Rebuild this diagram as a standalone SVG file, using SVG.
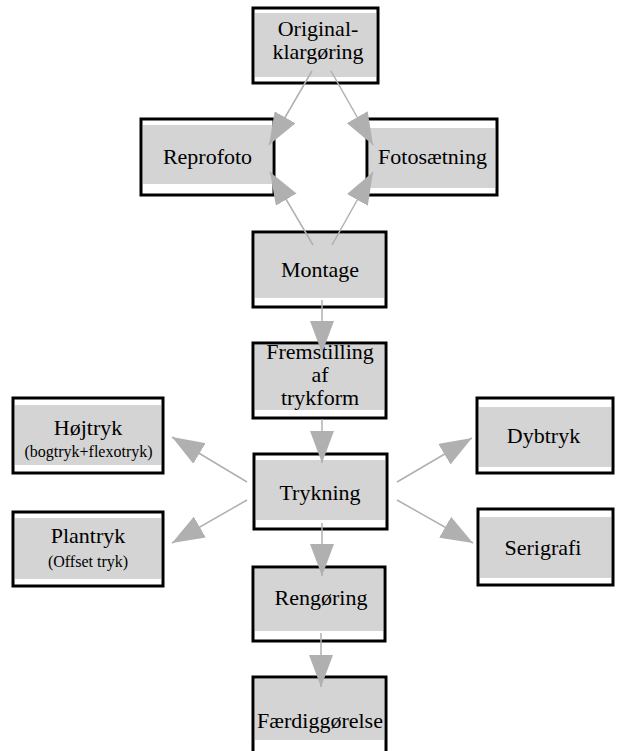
<svg xmlns="http://www.w3.org/2000/svg" width="618" height="751" viewBox="0 0 618 751">
<style>
.b{fill:#fff;stroke:#000;stroke-width:3}
.g{fill:#d4d4d4}
text{font-family:'Liberation Serif','Times New Roman',Times,serif;fill:#000;text-anchor:middle}
.t{font-size:22px}
.s{font-size:16px}
.c line{stroke:#b0b0b0;stroke-width:1.5;marker-end:url(#ah)}
</style>
<defs>
<marker id="ah" viewBox="0 0 32 24" markerWidth="32" markerHeight="24" refX="32" refY="12" orient="auto" markerUnits="userSpaceOnUse">
<path d="M0,0 L32,12 L0,24 z" fill="#b0b0b0"/>
</marker>
</defs>
<rect width="618" height="751" fill="#fff"/>
<g id="original">
<rect class="b" x="253" y="8" width="125" height="75"/>
<rect class="g" x="255" y="13" width="121" height="64"/>
<text class="t" x="318" y="36">Original-</text>
<text class="t" x="318" y="59">klargøring</text>
</g>
<g id="reprofoto">
<rect class="b" x="141" y="119" width="133" height="76"/>
<rect class="g" x="143" y="125" width="129" height="59"/>
<text class="t" x="207.5" y="164">Reprofoto</text>
</g>
<g id="fotosaetning">
<rect class="b" x="367" y="119" width="130" height="76"/>
<rect class="g" x="369" y="128" width="126" height="60"/>
<text class="t" x="432.5" y="164">Fotosætning</text>
</g>
<g id="montage">
<rect class="b" x="253" y="232" width="133" height="75"/>
<rect class="g" x="255" y="234" width="129" height="64"/>
<text class="t" x="320" y="277">Montage</text>
</g>
<g id="fremstilling">
<rect class="b" x="253" y="343" width="133" height="75"/>
<rect class="g" x="255" y="345" width="129" height="65"/>
<text class="t" x="320" y="359">Fremstilling</text>
<text class="t" x="320" y="382">af</text>
<text class="t" x="320" y="405">trykform</text>
</g>
<g id="trykning">
<rect class="b" x="254" y="454" width="133" height="75"/>
<rect class="g" x="256" y="460" width="129" height="60"/>
<text class="t" x="320" y="500">Trykning</text>
</g>
<g id="rengoering">
<rect class="b" x="253" y="567" width="132" height="74"/>
<rect class="g" x="255" y="569" width="128" height="62"/>
<text class="t" x="321" y="605">Rengøring</text>
</g>
<g id="faerdiggoerelse">
<rect class="b" x="253" y="677" width="133" height="80"/>
<rect class="g" x="255" y="679" width="129" height="61"/>
<text class="t" x="320" y="728">Færdiggørelse</text>
</g>
<g id="hoejtryk">
<rect class="b" x="13" y="398" width="150" height="75"/>
<rect class="g" x="15" y="405" width="146" height="60"/>
<text class="t" x="88" y="435">Højtryk</text>
<text class="s" x="88.5" y="457">(bogtryk+flexotryk)</text>
</g>
<g id="plantryk">
<rect class="b" x="13" y="512" width="150" height="74"/>
<rect class="g" x="15" y="518" width="146" height="61"/>
<text class="t" x="88" y="543">Plantryk</text>
<text class="s" x="88" y="567">(Offset tryk)</text>
</g>
<g id="dybtryk">
<rect class="b" x="477" y="398" width="136" height="75"/>
<rect class="g" x="479" y="407" width="132" height="60"/>
<text class="t" x="543.5" y="443">Dybtryk</text>
</g>
<g id="serigrafi">
<rect class="b" x="478" y="509" width="135" height="76"/>
<rect class="g" x="480" y="517" width="131" height="61"/>
<text class="t" x="543" y="555">Serigrafi</text>
</g>
<g id="connectors" class="c">
<line x1="312" y1="71" x2="269" y2="145"/>
<line x1="331" y1="71" x2="373" y2="145"/>
<line x1="313" y1="245" x2="270" y2="172"/>
<line x1="332" y1="245" x2="373" y2="172"/>
<line x1="322" y1="300" x2="322" y2="353"/>
<line x1="322" y1="419" x2="322" y2="463"/>
<line x1="247" y1="482" x2="172" y2="437"/>
<line x1="247" y1="500" x2="172" y2="543"/>
<line x1="397" y1="482" x2="472" y2="438"/>
<line x1="397" y1="500" x2="473" y2="543"/>
<line x1="322" y1="523" x2="322" y2="576"/>
<line x1="321" y1="633" x2="321" y2="687"/>
</g>
</svg>
